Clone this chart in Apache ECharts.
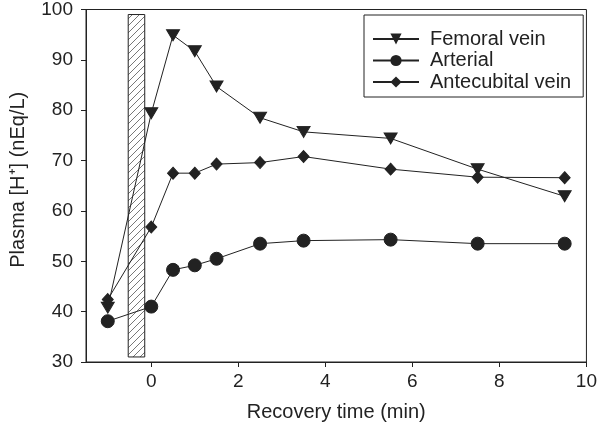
<!DOCTYPE html>
<html>
<head>
<meta charset="utf-8">
<script src="https://cdn.jsdelivr.net/npm/echarts@6/dist/echarts.min.js"></script>
<style>html,body{margin:0;padding:0;background:#fff;}#c{width:600px;height:427px;}</style>
</head>
<body>
<div id="c"></div>
<script>
var times = [-1, 0, 0.5, 1, 1.5, 2.5, 3.5, 5.5, 7.5, 9.5];
var femoral = [40.8, 79.4, 94.9, 91.7, 84.7, 78.5, 75.7, 74.4, 68.3, 62.9];
var arterial = [38.1, 41.0, 48.3, 49.2, 50.5, 53.5, 54.1, 54.3, 53.5, 53.5];
var antecubital = [42.4, 56.8, 67.5, 67.5, 69.3, 69.6, 70.8, 68.3, 66.7, 66.6];
var xTicks = [0, 2, 4, 6, 8, 10];
var hatchX = [-0.53, -0.15];
var hatchY = [31, 99];

function pairs(ys) { return times.map(function (t, i) { return [t, ys[i]]; }); }

var pc = document.createElement('canvas');
pc.width = 7; pc.height = 7;
var g = pc.getContext('2d');
g.fillStyle = '#fff'; g.fillRect(0, 0, 7, 7);
g.strokeStyle = '#555'; g.lineWidth = 0.8;
g.beginPath();
g.moveTo(-1, 8); g.lineTo(8, -1);
g.moveTo(-1, 1); g.lineTo(1, -1);
g.moveTo(6, 8); g.lineTo(8, 6);
g.stroke();

var font = 'Liberation Sans, Arial, Helvetica, sans-serif';
var ink = '#222';
var chart = echarts.init(document.getElementById('c'), null, { renderer: 'canvas' });
var lineStyle = { color: ink, width: 1 };
var itemStyle = { color: ink, borderColor: ink };
chart.setOption({
  animation: false,
  backgroundColor: '#fff',
  grid: { left: 81, top: 7, right: 12, bottom: 64, show: true, borderColor: ink, borderWidth: 1, backgroundColor: 'transparent' },
  legend: {
    orient: 'vertical', left: 364, top: 15,
    padding: [14, 12, 5, 8],
    itemGap: 1.5, itemWidth: 46, itemHeight: 14,
    borderColor: ink, borderWidth: 1, backgroundColor: '#fff',
    textStyle: { fontFamily: font, fontSize: 20, color: ink, padding: [0, 0, 0, 6] },
    data: ['Femoral vein', 'Arterial', 'Antecubital vein']
  },
  xAxis: {
    type: 'value', min: -1.5, max: 10,
    name: 'Recovery time (min)', nameLocation: 'middle', nameGap: 40,
    nameTextStyle: { fontFamily: font, fontSize: 20, color: ink },
    axisLine: { show: true, onZero: false, lineStyle: { color: ink, width: 1 } },
    axisTick: { show: true, length: 5, lineStyle: { color: ink }, customValues: xTicks },
    axisLabel: { fontFamily: font, fontSize: 19, color: ink, margin: 10, customValues: xTicks },
    splitLine: { show: false }
  },
  yAxis: {
    type: 'value', min: 30, max: 100, interval: 10,
    name: 'Plasma [H⁺] (nEq/L)', nameLocation: 'middle', nameGap: 58,
    nameTextStyle: { fontFamily: font, fontSize: 20, color: ink, padding: [0, 0, 0, 12] },
    axisLine: { show: true, onZero: false, lineStyle: { color: ink, width: 1 } },
    axisTick: { show: true, length: 5, lineStyle: { color: ink } },
    axisLabel: { fontFamily: font, fontSize: 19, color: ink, margin: 13 },
    splitLine: { show: false }
  },
  series: [
    {
      name: 'Femoral vein', type: 'line', data: pairs(femoral),
      symbol: 'triangle', symbolRotate: 180, symbolSize: [13, 11],
      lineStyle: lineStyle, itemStyle: itemStyle, z: 3,
      markArea: {
        silent: true,
        itemStyle: { color: { image: pc, repeat: 'repeat' }, borderColor: ink, borderWidth: 1 },
        data: [[{ coord: [hatchX[0], hatchY[0]] }, { coord: [hatchX[1], hatchY[1]] }]]
      }
    },
    {
      name: 'Arterial', type: 'line', data: pairs(arterial),
      symbol: 'circle', symbolSize: 13,
      lineStyle: lineStyle, itemStyle: itemStyle, z: 3
    },
    {
      name: 'Antecubital vein', type: 'line', data: pairs(antecubital),
      symbol: 'diamond', symbolSize: [11, 12],
      lineStyle: lineStyle, itemStyle: itemStyle, z: 3
    }
  ]
});
</script>
</body>
</html>
